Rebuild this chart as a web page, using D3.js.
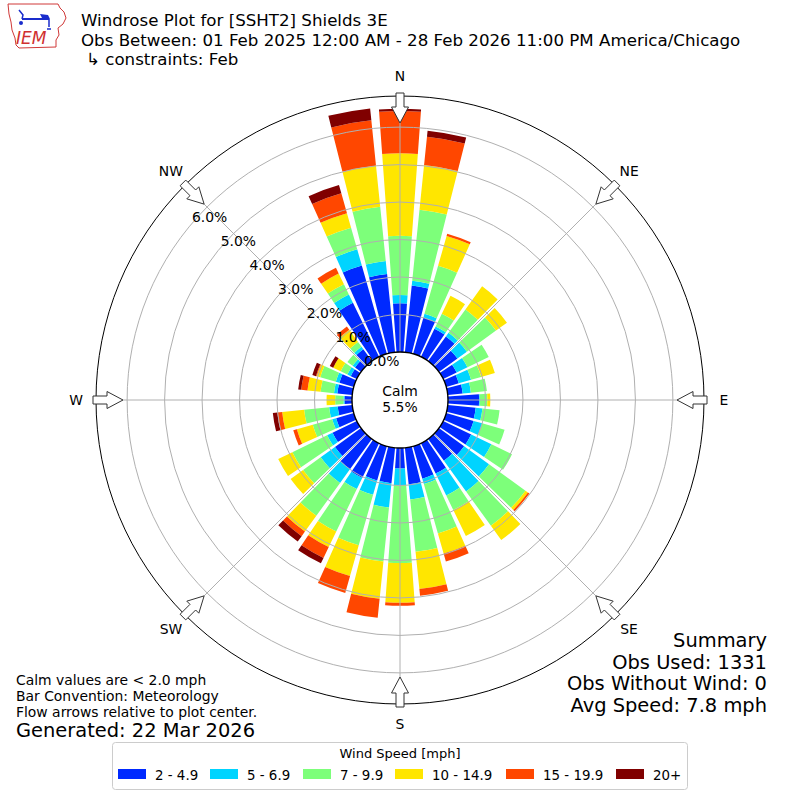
<!DOCTYPE html>
<html><head><meta charset="utf-8">
<script src="https://cdn.jsdelivr.net/npm/d3@7"></script>
<style>
body{margin:0;background:#fff}
svg{display:block}
text{font-family:"DejaVu Sans",sans-serif}
</style>
</head><body>
<svg id="chart" width="800" height="800"></svg>
<script>
// ---------------- data ----------------
const directions = [0,10,20,30,40,50,60,70,80,90,100,110,120,130,140,150,160,170,
                    180,190,200,210,220,230,240,250,260,270,280,290,300,310,320,330,340,350];
const speedBins = ["2 - 4.9","5 - 6.9","7 - 9.9","10 - 14.9","15 - 19.9","20+"];
const binColors = ["#0029ff","#00d4ff","#7dff7a","#ffe600","#ff4700","#800000"];
// frequency (%) per direction for each speed bin
const spd2to5   = [1.30,1.79,1.01,0.83,0.81,0.61,0.40,0.35,0.40,0.83,0.75,0.76,0.83,0.83,0.72,0.90,0.90,0.98,
                   0.55,0.95,0.95,1.03,1.00,0.86,0.72,0.49,0.39,0.20,0.40,0.40,0.18,0.20,0.39,1.60,2.45,2.10];
const spd5to7   = [0.22,0.13,0.10,0.07,0.12,0.31,0.32,0.34,0.22,0.02,0.18,0.24,0.60,0.82,1.01,0.65,0.15,0.41,
                   0.44,0.65,0.40,0.33,0.45,0.47,0.16,0.11,0.23,0.03,0.09,0.10,0.10,0.08,0.08,0.25,0.45,0.35];
const spd7to10  = [1.58,1.90,1.33,0.38,0.77,0.96,0.63,0.28,0.43,0.20,0.46,0.62,0.61,1.20,1.13,0.43,1.37,1.40,
                   2.08,1.45,1.40,1.26,1.08,0.58,1.03,0.54,0.67,0.22,0.36,0.43,0.20,0.17,0.16,0.30,0.60,1.45];
const spd10to15 = [2.20,1.20,0.83,0.53,0.76,0.36,0.00,0.38,0.00,0.08,0.00,0.00,0.00,0.08,0.47,0.77,0.56,1.00,
                   1.06,1.00,0.85,0.46,0.52,0.41,0.42,0.44,0.59,0.23,0.35,0.10,0.22,0.00,0.40,0.32,0.40,1.10];
const spd15to20 = [1.13,0.76,0.06,0.00,0.00,0.00,0.00,0.00,0.00,0.00,0.00,0.00,0.00,0.05,0.00,0.00,0.22,0.18,
                   0.08,0.51,0.47,0.32,0.15,0.00,0.00,0.10,0.13,0.00,0.17,0.02,0.00,0.00,0.11,0.17,0.55,1.22];
const spd20up   = [0.06,0.16,0.00,0.00,0.00,0.00,0.00,0.00,0.00,0.00,0.00,0.00,0.00,0.00,0.00,0.00,0.00,0.00,
                   0.00,0.00,0.00,0.16,0.18,0.00,0.00,0.00,0.12,0.00,0.08,0.10,0.10,0.00,0.00,0.00,0.23,0.32];
const radialTicks = [0,1,2,3,4,5,6];
const compassDirs = [0,45,90,135,180,225,270,315];
const compassLabels = ["N","NE","E","SE","S","SW","W","NW"];
const calmPct = "5.5%";
const titleLines = ["Windrose Plot for [SSHT2] Shields 3E",
                    "Obs Between: 01 Feb 2025 12:00 AM - 28 Feb 2026 11:00 PM America/Chicago",
                    "\u21b3 constraints: Feb"];
const noteLines = ["Calm values are < 2.0 mph","Bar Convention: Meteorology","Flow arrows relative to plot center."];
const generated = "Generated: 22 Mar 2026";
const summaryLines = ["Summary","Obs Used: 1331","Obs Without Wind: 0","Avg Speed: 7.8 mph"];

// ---------------- setup ----------------
const svg = d3.select("#chart");
const cx = 400, cy = 400;
const rMax = 6.83;
const r = d3.scaleLinear().domain([0, rMax]).range([48, 304]);
const ang = d3.scaleLinear().domain([0, 360]).range([0, 2*Math.PI]);
const halfW = ang(4.15);

const series = [spd2to5, spd5to7, spd7to10, spd10to15, spd15to20, spd20up];
const keys = speedBins;
const table = directions.map((d,i) => {
  const o = {dir: d};
  keys.forEach((k,j) => o[k] = series[j][i]);
  return o;
});
const stacked = d3.stack().keys(keys)(table);

const g = svg.append("g").attr("transform", `translate(${cx},${cy})`);

// bars
const arc = d3.arc()
  .innerRadius(d => r(d[0]))
  .outerRadius(d => r(d[1]))
  .startAngle(d => ang(d.data.dir) - halfW)
  .endAngle(d => ang(d.data.dir) + halfW);

stacked.forEach((layer, li) => {
  g.append("g").selectAll("path")
    .data(layer.filter(d => d[1] - d[0] > 0.0001))
    .join("path")
    .attr("d", arc)
    .attr("fill", binColors[li]);
});

// grid circles
g.append("g").selectAll("circle")
  .data(radialTicks.filter(t => t > 0))
  .join("circle")
  .attr("r", d => r(d))
  .attr("fill", "none")
  .attr("stroke", "#b0b0b0")
  .attr("stroke-width", 1);

// radial grid lines
g.append("g").selectAll("line")
  .data(compassDirs)
  .join("line")
  .attr("x1", d => r(0) * Math.sin(ang(d)))
  .attr("y1", d => -r(0) * Math.cos(ang(d)))
  .attr("x2", d => r(rMax) * Math.sin(ang(d)))
  .attr("y2", d => -r(rMax) * Math.cos(ang(d)))
  .attr("stroke", "#b0b0b0")
  .attr("stroke-width", 1);

// calm circle
g.append("circle").attr("r", r(0)).attr("fill", "#fff").attr("stroke", "#000").attr("stroke-width", 1.4);
g.append("text").attr("x", 0).attr("y", -4).attr("text-anchor", "middle")
  .attr("font-size", "13.9px").text("Calm");
g.append("text").attr("x", 0).attr("y", 12).attr("text-anchor", "middle")
  .attr("font-size", "13.9px").text(calmPct);

// outer circle
g.append("circle").attr("r", r(rMax)).attr("fill", "none").attr("stroke", "#000").attr("stroke-width", 1);

// radial tick labels
const labAng = ang(310);
g.append("g").selectAll("text")
  .data(radialTicks)
  .join("text")
  .attr("x", d => r(d) * Math.sin(labAng) + 1)
  .attr("y", d => -r(d) * Math.cos(labAng) - 3)
  .attr("font-size", "13.9px")
  .text(d => d.toFixed(1) + "%");

// arrows
const arrowShape = [[307,-4],[293,-4],[293,-8.5],[277,0],[293,8.5],[293,4],[307,4]];
g.append("g").selectAll("path")
  .data(compassDirs)
  .join("path")
  .attr("d", d => {
    const t = ang(d), s = Math.sin(t), c = Math.cos(t);
    const pts = arrowShape.map(([a, b]) => [a*s + b*c, -a*c + b*s]);
    return "M" + pts.map(p => p[0].toFixed(2) + "," + p[1].toFixed(2)).join("L") + "Z";
  })
  .attr("fill", "#fff")
  .attr("stroke", "#333")
  .attr("stroke-width", 1);

// compass labels
g.append("g").selectAll("text")
  .data(compassDirs)
  .join("text")
  .attr("x", d => 324 * Math.sin(ang(d)))
  .attr("y", d => -324 * Math.cos(ang(d)) + 5)
  .attr("text-anchor", "middle")
  .attr("font-size", "13.9px")
  .text((d,i) => compassLabels[i]);

// ---------------- titles ----------------
svg.append("text").attr("x", 81).attr("y", 25.5).attr("font-size", "16.67px").text(titleLines[0]);
svg.append("text").attr("x", 81).attr("y", 45.5).attr("font-size", "16.67px").text(titleLines[1]);
svg.append("text").attr("x", 86).attr("y", 64.5).attr("font-size", "16.67px").text(titleLines[2]);

// logo
const logo = svg.append("g");
logo.append("path")
  .attr("d", "M8,4 L58,4 L60,8 L64,12 L66,18 L63,24 L58,28 L59,35 L56,40 L56,47 L19,48 L16,45 L15,38 L12,30 L11,22 L9,14 Z")
  .attr("fill", "none").attr("stroke", "#d03838").attr("stroke-width", 1);
logo.append("line").attr("x1", 22).attr("y1", 19).attr("x2", 49).attr("y2", 19)
  .attr("stroke", "#1a2ccc").attr("stroke-width", 2);
logo.append("path").attr("d", "M19,10 L23,15 L22,19").attr("fill", "none")
  .attr("stroke", "#1a2ccc").attr("stroke-width", 1.5);
logo.append("circle").attr("cx", 21).attr("cy", 23).attr("r", 2).attr("fill", "#1a2ccc");
logo.append("path").attr("d", "M40,14 L48,15 L50,19 L42,18 Z").attr("fill", "#1a2ccc");
logo.append("path").attr("d", "M49,19 L49,27 M47,29 L51,29").attr("stroke", "#1a2ccc").attr("stroke-width", 1.5);
logo.append("text").attr("x", 16).attr("y", 44).attr("font-family", "'Liberation Serif',serif")
  .attr("font-style", "italic").attr("font-size", "17px").attr("fill", "#d03030").text("IEM");

// notes bottom-left
noteLines.forEach((t, i) => {
  svg.append("text").attr("x", 16).attr("y", 685 + i*15.8).attr("font-size", "13.9px").text(t);
});
svg.append("text").attr("x", 16).attr("y", 737).attr("font-size", "19.44px").text(generated);

// summary bottom-right
summaryLines.forEach((t, i) => {
  svg.append("text").attr("x", 767).attr("y", 647 + i*21.7).attr("text-anchor", "end")
    .attr("font-size", "19.44px").text(t);
});

// ---------------- legend ----------------
const legend = svg.append("g");
legend.append("rect").attr("x", 112.5).attr("y", 742.5).attr("width", 575).attr("height", 47)
  .attr("rx", 3).attr("fill", "#fff").attr("stroke", "#cccccc").attr("stroke-width", 1);
legend.append("text").attr("x", 400).attr("y", 758).attr("text-anchor", "middle")
  .attr("font-size", "13px").text("Wind Speed [mph]");
const legendX = [118, 210, 303, 395, 506, 616];
speedBins.forEach((b, i) => {
  legend.append("rect").attr("x", legendX[i]).attr("y", 769).attr("width", 28).attr("height", 10)
    .attr("fill", binColors[i]);
  legend.append("text").attr("x", legendX[i] + 37).attr("y", 779.5).attr("font-size", "13.4px").text(b);
});
</script>
</body></html>
